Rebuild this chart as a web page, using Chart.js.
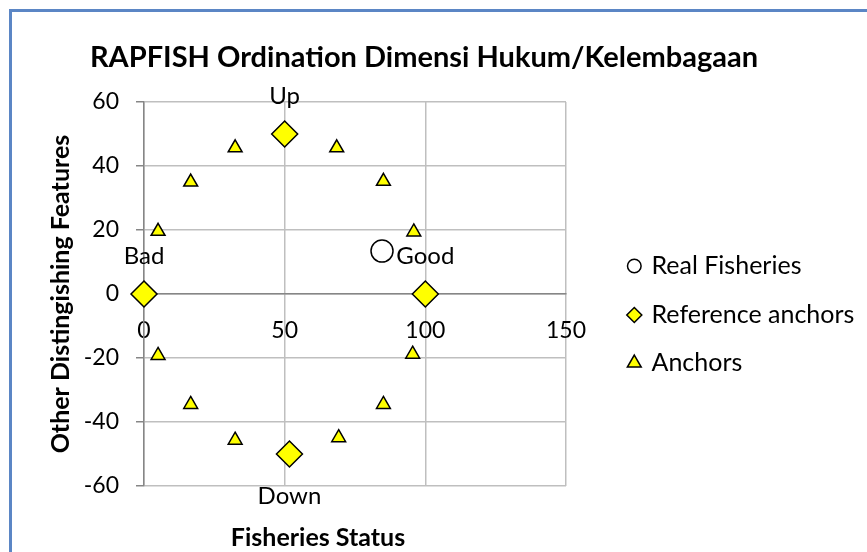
<!DOCTYPE html>
<html>
<head>
<meta charset="utf-8">
<script src="https://cdn.jsdelivr.net/npm/chart.js@4.4.0/dist/chart.umd.min.js"></script>
<style>
  html, body { margin: 0; padding: 0; background: #fff; overflow: hidden; }
  #frame { position: absolute; left: 9px; top: 9px; width: 900px; height: 600px; border: 3px solid #5b86c5; }
  #chart { position: absolute; left: 0; top: 0; }
</style>
</head>
<body>
<div id="frame"></div>
<canvas id="chart" width="867" height="552"></canvas>
<script>

// Real fisheries position
var realX = [84.6];
var realY = [13.4];

// Reference anchors (Good, Bad, Up, Down)
var refNames = ['Good', 'Bad', 'Up', 'Down'];
var refLabelPos = ['above', 'above', 'above', 'below'];
var refX = [100, 0, 50, 51.7];
var refY = [0, 0, 50, -50];

// Anchors
var anchorX = [5.0, 16.6, 32.4, 68.5, 85.1, 95.9, 5.0, 16.6, 32.4, 69.2, 85.1, 95.5];
var anchorY = [19.6, 35.0, 45.7, 45.7, 35.2, 19.4, -19.2, -34.5, -45.7, -44.9, -34.5, -18.8];

// Axes
var xRange = [0, 150, 50];   // min, max, step
var yRange = [-60, 60, 20];

var seriesNames = ['Real Fisheries', 'Reference anchors', 'Anchors'];

var FONT = 'Lato, "Open Sans", sans-serif';

function toPoints(xs, ys) {
	return xs.map((x, i) => ({ x: x, y: ys[i] }));
}

// Small marker painter for the legend
function drawMarker(ctx, style, x, y, r, fill) {
	ctx.save();
	ctx.fillStyle = fill;
	ctx.strokeStyle = '#000';
	ctx.lineWidth = 1.5;
	ctx.beginPath();
	if (style == 'circle') {
		ctx.arc(x, y, r, 0, Math.PI * 2);
	} else if (style == 'rectRot') {
		ctx.moveTo(x, y - r);
		ctx.lineTo(x + r, y);
		ctx.lineTo(x, y + r);
		ctx.lineTo(x - r, y);
		ctx.closePath();
	} else {
		ctx.moveTo(x, y - r);
		ctx.lineTo(x + r * 0.866, y + r / 2);
		ctx.lineTo(x - r * 0.866, y + r / 2);
		ctx.closePath();
	}
	ctx.fill();
	ctx.stroke();
	ctx.restore();
}

var extrasPlugin = {
	id: 'extras',
	afterDatasetsDraw: function (chart) {
		// Labels on the reference anchors
		var ctx = chart.ctx;
		var meta = chart.getDatasetMeta(1);
		ctx.save();
		ctx.font = '24px ' + FONT;
		ctx.fillStyle = '#000';
		ctx.textAlign = 'center';
		ctx.textBaseline = 'middle';
		meta.data.forEach((pt, i) => {
			var dy = refLabelPos[i] == 'below' ? 42 : -38;
			ctx.fillText(refNames[i], pt.x, pt.y + dy);
		});
		ctx.restore();
	},
	afterDraw: function (chart) {
		var ctx = chart.ctx;
		ctx.save();
		ctx.fillStyle = '#000';

		// Title
		ctx.font = 'bold 29px ' + FONT;
		ctx.textAlign = 'center';
		ctx.textBaseline = 'alphabetic';
		ctx.fillText('RAPFISH Ordination Dimensi Hukum/Kelembagaan', 424, 67);

		// X axis title
		ctx.font = 'bold 25px ' + FONT;
		ctx.fillText('Fisheries Status', 318, 546);

		// Legend
		var rows = [266, 315, 363];
		ctx.font = '25px ' + FONT;
		ctx.textAlign = 'left';
		ctx.textBaseline = 'middle';
		chart.data.datasets.forEach((ds, i) => {
			var r = ds.pointStyle == 'circle' ? 6.8 : (ds.pointStyle == 'rectRot' ? 7.5 : 8);
			drawMarker(ctx, ds.pointStyle, 634.3, rows[i], r, ds.backgroundColor);
			ctx.fillStyle = '#000';
			ctx.fillText(ds.label, 651.5, rows[i]);
		});
		ctx.restore();
	}
};

new Chart(document.getElementById('chart'), {
	type: 'scatter',
	data: {
		datasets: [
			{
				label: seriesNames[0],
				data: toPoints(realX, realY),
				pointStyle: 'circle',
				pointRadius: 11,
				backgroundColor: '#ffffff',
				borderColor: '#000000',
				borderWidth: 1.5,
				clip: false
			},
			{
				label: seriesNames[1],
				data: toPoints(refX, refY),
				pointStyle: 'rectRot',
				pointRadius: 13,
				backgroundColor: '#ffff00',
				borderColor: '#000000',
				borderWidth: 1.5,
				clip: false
			},
			{
				label: seriesNames[2],
				data: toPoints(anchorX, anchorY),
				pointStyle: 'triangle',
				pointRadius: 8,
				backgroundColor: '#ffff00',
				borderColor: '#000000',
				borderWidth: 1.5,
				clip: false
			}
		]
	},
	options: {
		responsive: false,
		animation: false,
		events: [],
		layout: {
			padding: { left: 0, right: 301, top: 102, bottom: 66 }
		},
		plugins: {
			legend: { display: false },
			title: { display: false },
			tooltip: { enabled: false }
		},
		scales: {
			x: {
				type: 'linear',
				position: { y: 0 },
				min: xRange[0],
				max: xRange[1],
				ticks: {
					stepSize: xRange[2],
					color: '#000',
					padding: 23,
					font: { family: FONT, size: 23 }
				},
				grid: {
					color: '#bfbfbf',
					lineWidth: 1.5,
					drawTicks: false
				},
				border: { color: '#868686', width: 1.5 }
			},
			y: {
				type: 'linear',
				position: 'left',
				min: yRange[0],
				max: yRange[1],
				afterFit: function (scale) {
					scale.width = 144;
				},
				ticks: {
					stepSize: yRange[2],
					color: '#000',
					padding: 17,
					font: { family: FONT, size: 23 }
				},
				grid: {
					color: '#bfbfbf',
					lineWidth: 1.5,
					tickLength: 8,
					tickColor: '#868686'
				},
				border: { color: '#868686', width: 1.5 },
				title: {
					display: true,
					text: 'Other Distingishing Features',
					color: '#000',
					padding: { top: 46, bottom: 0 },
					font: { family: FONT, size: 25, weight: 'bold' }
				}
			}
		}
	},
	plugins: [extrasPlugin]
});
</script>
</body>
</html>
